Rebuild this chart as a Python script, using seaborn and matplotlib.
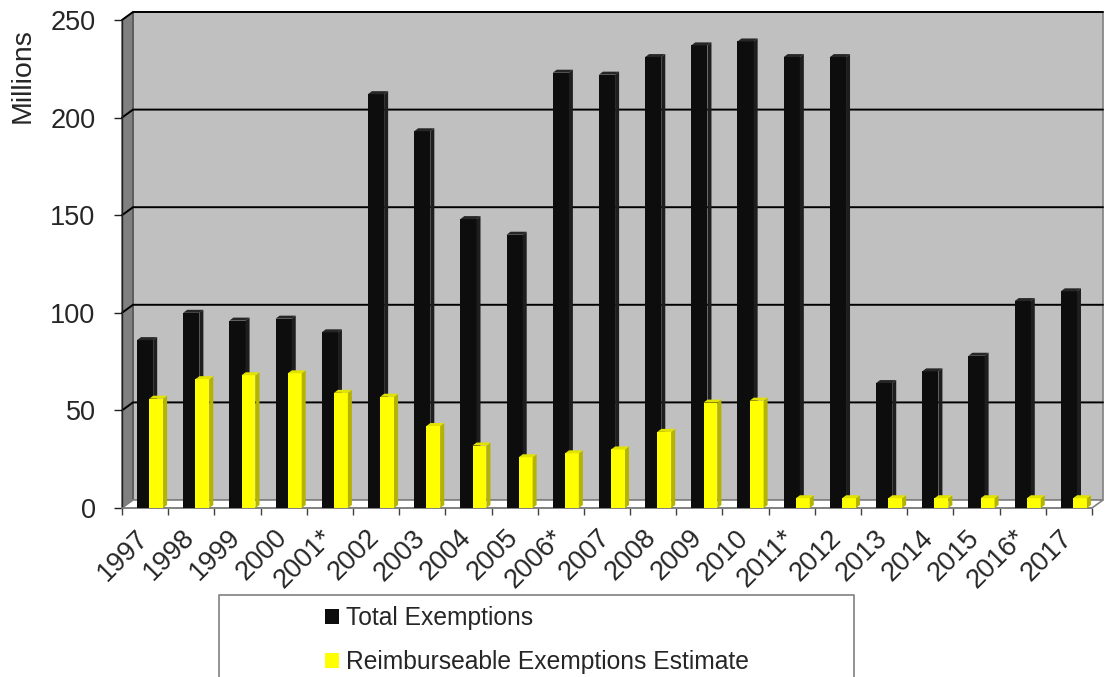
import numpy as np
import pandas as pd
import matplotlib
matplotlib.use("Agg")
import matplotlib.pyplot as plt
import seaborn as sns
from matplotlib.patches import Rectangle, Polygon, Patch
import matplotlib.transforms as mtransforms

# ---------------- data ----------------
years = ["1997", "1998", "1999", "2000", "2001*", "2002", "2003", "2004", "2005", "2006*",
         "2007", "2008", "2009", "2010", "2011*", "2012", "2013", "2014", "2015", "2016*", "2017"]
total_exemptions = [86, 100, 96, 97, 90, 212, 193, 148, 140, 223,
                    222, 231, 237, 239, 231, 231, 64, 70, 78, 106, 111]
reimb_exemptions = [56, 66, 68, 69, 59, 57, 42, 32, 26, 28,
                    30, 39, 54, 55, 5, 5, 5, 5, 5, 5, 5]
y_ticks = [0, 50, 100, 150, 200, 250]
series_names = ["Total Exemptions", "Reimburseable Exemptions Estimate"]
y_label = "Millions"

# ---------------- style ----------------
sns.set_theme(style="white")
plt.rcParams["font.family"] = ["Liberation Sans", "DejaVu Sans"]

W, H = 1105, 677
fig = plt.figure(figsize=(W / 100, H / 100), dpi=100)
L, R, T, B = 122, 1092, 20, 508
ax = fig.add_axes([L / W, 1 - B / H, (R - L) / W, (B - T) / H])
ax.set_facecolor("none")

BLACK = "#0D0D0D"
YELLOW = "#FFFF00"

df = pd.DataFrame({"year": years, "total": total_exemptions, "reimb": reimb_exemptions})
sns.barplot(data=df, x="year", y="total", color=BLACK, width=0.35, saturation=1,
            ax=ax, zorder=3, linewidth=0)
sns.barplot(data=df, x="year", y="reimb", color=YELLOW, width=0.30, saturation=1,
            ax=ax, zorder=5, linewidth=0)

n = len(years)
x0, x1 = -0.5, n - 0.5
ymax = y_ticks[-1]
ax.set_xlim(x0, x1)
ax.set_ylim(0, ymax)

# pseudo-3D depth (pixels -> data)
DX, DY = 11, 8
ddx, ddy = DX * n / (R - L), DY * ymax / (B - T)
bx, by = 4 * n / (R - L), 3 * ymax / (B - T)   # bar depth

# back wall
back = mtransforms.offset_copy(ax.transAxes, fig=fig, x=DX, y=DY, units="dots")
ax.add_patch(Rectangle((0, 0), 1, 1, transform=back, facecolor="#C0C0C0",
                       edgecolor="#808080", lw=1.2, zorder=0, clip_on=False))
# side wall
ax.add_patch(Polygon([(x0, 0), (x0 + ddx, ddy), (x0 + ddx, ymax + ddy), (x0, ymax)],
                     closed=True, facecolor="#808080", edgecolor="#404040", lw=0.8,
                     zorder=0.5, clip_on=False))
# floor
ax.add_patch(Polygon([(x0, 0), (x1, 0), (x1 + ddx, ddy), (x0 + ddx, ddy)], closed=True,
                     facecolor="white", edgecolor="#808080", lw=1.2, zorder=0.6, clip_on=False))
# grid lines on side and back wall
for v in y_ticks[1:]:
    ax.plot([x0, x0 + ddx, x1 + ddx], [v + 0, v + ddy, v + ddy], color="black", lw=1.4,
            zorder=1, clip_on=False, solid_joinstyle="miter")

# bars: shift yellow series, add side/top faces
black_bars, yellow_bars = ax.containers[0], ax.containers[1]
for p in yellow_bars:
    p.set_x(p.get_x() + 0.24)


def add_faces(bars, side_c, top_c, z):
    for p in bars:
        xl, w, h = p.get_x(), p.get_width(), p.get_height()
        xr = xl + w
        ax.add_patch(Polygon([(xr, 0), (xr + bx, by), (xr + bx, h + by), (xr, h)], closed=True,
                             facecolor=side_c, edgecolor="none", zorder=z, clip_on=False))
        ax.add_patch(Polygon([(xl, h), (xl + bx, h + by), (xr + bx, h + by), (xr, h)], closed=True,
                             facecolor=top_c, edgecolor="none", zorder=z, clip_on=False))


add_faces(black_bars, "#1E1E1E", "#262626", 3.5)
add_faces(yellow_bars, "#B3B300", "#E2E200", 5.5)

# axes, ticks
for s in ["top", "right"]:
    ax.spines[s].set_visible(False)
ax.spines["left"].set_color("#202020")
ax.spines["left"].set_linewidth(1.0)
ax.spines["bottom"].set_color("#808080")
ax.spines["bottom"].set_linewidth(1.2)
ax.spines["left"].set_zorder(2)

ax.set_yticks(y_ticks)
ax.set_yticklabels([str(v) for v in y_ticks], fontsize=19.5)
ax.tick_params(axis="y", which="major", left=True, length=6, width=1, color="#202020",
               direction="out", pad=13)

ax.set_xticks(range(n))
ax.set_xticklabels(years, rotation=45, ha="right", rotation_mode="anchor", fontsize=19.5)
ax.set_xticks(np.arange(x0, x1 + 0.01, 1.0), minor=True)
ax.tick_params(axis="x", which="major", bottom=True, length=0, pad=12)
ax.tick_params(axis="x", which="minor", bottom=True, length=5, width=1, color="#404040",
               direction="out")
off = mtransforms.ScaledTranslation(-10 / 100, 0, fig.dpi_scale_trans)
for lab in ax.get_xticklabels():
    lab.set_transform(lab.get_transform() + off)

ax.set_xlabel("")
ax.set_ylabel("")
fig.text(23 / W, 1 - 76 / H, y_label, rotation=90, ha="center", va="center", fontsize=20.5)

# legend (frame drawn manually, bottom edge cut by figure border)
lx0, lx1, ly0 = 219, 854, 595
fig.add_artist(plt.Line2D([lx0 / W, lx0 / W, lx1 / W, lx1 / W],
                          [0, 1 - ly0 / H, 1 - ly0 / H, 0], transform=fig.transFigure,
                          color="#808080", lw=1.2))
handles = [Patch(facecolor=BLACK, edgecolor="none"), Patch(facecolor=YELLOW, edgecolor="none")]
fig.legend(handles, series_names, loc="upper center", bbox_to_anchor=(537 / W, 1 - 594 / H),
           frameon=False, fontsize=17.7, handlelength=0.55, handleheight=0.55,
           handletextpad=0.3, labelspacing=0.8, borderpad=0)

fig.savefig("out.png", dpi=100)
